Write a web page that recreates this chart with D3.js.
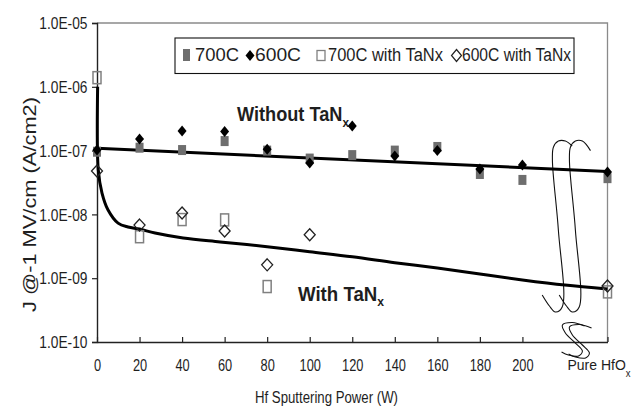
<!DOCTYPE html>
<html><head><meta charset="utf-8">
<script src="https://cdn.jsdelivr.net/npm/d3@7/dist/d3.min.js"></script>
<style>
html,body{margin:0;padding:0;background:#fff;}
svg{display:block;}
text{font-family:"Liberation Sans",Arial,Helvetica,sans-serif;fill:#1e1e1e;}
</style></head>
<body>
<svg id="chart" width="644" height="408"></svg>
<script>
// ---- data ----
const power = [0, 20, 40, 60, 80, 100, 120, 140, 160, 180, 200, 240];
const xTickValues = [0, 20, 40, 60, 80, 100, 120, 140, 160, 180, 200];
const yTickValues = [1e-10, 1e-9, 1e-8, 1e-7, 1e-6, 1e-5];
const yTickLabels = ["1.0E-10", "1.0E-09", "1.0E-08", "1.0E-07", "1.0E-06", "1.0E-05"];
const j700 = [9.6e-8, 1.11e-7, 1.02e-7, 1.41e-7, 1.0e-7, 7.5e-8, 8.5e-8, 1.0e-7, 1.14e-7, 4.3e-8, 3.47e-8, 3.7e-8];
const j600 = [1.02e-7, 1.52e-7, 2.03e-7, 2.0e-7, 1.05e-7, 6.4e-8, 2.43e-7, 8.2e-8, 1.0e-7, 5.15e-8, 5.94e-8, 4.6e-8];
const j700TaN = [1.39e-6, 4.47e-9, 8.3e-9, 8.2e-9, 7.4e-10, null, null, null, null, null, null, 6.1e-10];
const j600TaN = [4.8e-8, 6.8e-9, 1.05e-8, 5.5e-9, 1.62e-9, 4.8e-9, null, null, null, null, null, 7.55e-10];
const legendNames = ["700C", "600C", "700C with TaNx", "600C with TaNx"];
// trend lines
const trendNoTaNxX = [0, 240];
const trendNoTaNxJ = [1.09e-7, 4.7e-8];
const trendTaNxX = [0.3, 0.6, 2.35, 5.2, 9.9, 14.6, 20, 27.3, 40.5, 57.9, 80, 100, 120, 140, 160, 180, 200, 220, 240];
const trendTaNxJ = [1.0e-6, 4.97e-8, 2.16e-8, 1.17e-8, 7.3e-9, 6.35e-9, 5.9e-9, 5.1e-9, 4.27e-9, 3.7e-9, 3.12e-9, 2.6e-9, 2.17e-9, 1.75e-9, 1.44e-9, 1.16e-9, 9.4e-10, 7.8e-10, 6.76e-10];
// hand-drawn axis-break marks, [power, log10 J]
const breakMark1 = [[209.3,-9.263],[212.7,-9.436],[215.5,-9.53],[218.7,-9.451],[216.9,-8.245],[214.1,-7.147],[214.6,-6.944],[216.9,-6.85],[220.2,-6.85],[223.4,-6.928]];
const breakMark2 = [[217.3,-9.263],[220.7,-9.436],[223.5,-9.53],[226.7,-9.451],[224.9,-8.245],[222.1,-7.147],[222.6,-6.944],[224.9,-6.85],[228.2,-6.85],[232.0,-7.0]];
const breakS1 = [[229.2,-9.749],[223.5,-9.694],[218.8,-9.734],[220.2,-9.859],[224.9,-10.016],[228.2,-10.141],[226.4,-10.219],[221.6,-10.204],[218.4,-10.157]];
const breakS2 = [[232.5,-9.78],[226.8,-9.725],[222.1,-9.765],[223.5,-9.89],[228.2,-10.047],[231.5,-10.172],[229.7,-10.25],[224.9,-10.235],[221.7,-10.188]];

// ---- layout ----
const L = 97, R = 607.5, T = 23, B = 342;
const svg = d3.select("#chart");
const x = d3.scaleLinear().domain([0, 240]).range([L, R]);
const y = d3.scaleLog().domain([1e-10, 1e-5]).range([B, T]);

// plot border (top/right gray)
svg.append("path").attr("d", `M${L},${T}H${R}V${B}`).attr("fill", "none").attr("stroke", "#8a8a8a").attr("stroke-width", 1.3);

// y axis
const yAxis = d3.axisLeft(y).tickValues(yTickValues).tickSize(5).tickFormat((d, i) => yTickLabels[i]);
const gy = svg.append("g").attr("transform", `translate(${L},0)`).call(yAxis);
gy.select(".domain").attr("stroke", "#222").attr("stroke-width", 1.4);
gy.selectAll(".tick line").attr("stroke", "#222").attr("stroke-width", 1.2);
gy.selectAll(".tick text").attr("x", 0).attr("dy", null).attr("dominant-baseline", null)
  .attr("transform", "translate(-9.5,5.7) scale(0.86,1)")
  .style("font-size", "16px").attr("fill", "#2a2a2a");

// x axis
const xAxis = d3.axisBottom(x).tickValues(xTickValues.concat([240])).tickSize(0).tickFormat((d) => d === 240 ? "" : d);
const gx = svg.append("g").attr("transform", `translate(0,${B})`).call(xAxis);
gx.select(".domain").attr("stroke", "#222").attr("stroke-width", 1.4);
gx.selectAll(".tick line").attr("y1", 0).attr("y2", -5).attr("stroke", "#222").attr("stroke-width", 1.2);
gx.selectAll(".tick text").attr("y", 0).attr("dy", null)
  .attr("transform", "translate(0,29) scale(0.8,1)")
  .style("font-size", "16px").attr("fill", "#2a2a2a");

// axis titles
svg.append("text").attr("x", 326.5).attr("y", 402.5).attr("text-anchor", "middle")
  .style("font-size", "16px").attr("textLength", 143).attr("lengthAdjust", "spacingAndGlyphs").attr("fill", "#2a2a2a")
  .text("Hf Sputtering Power (W)");
svg.append("text").attr("transform", "translate(35.5,204.5) rotate(-90)").attr("text-anchor", "middle")
  .style("font-size", "17.5px").attr("textLength", 215).attr("lengthAdjust", "spacingAndGlyphs").attr("fill", "#333")
  .text("J @-1 MV/cm (A/cm2)");

// text with subscript in one element
function subText(px, py, main, sub, size, subSize, len, weight, fill, dy) {
  const t = svg.append("text").attr("x", px).attr("y", py).style("font-size", size + "px")
    .style("font-weight", weight).attr("fill", fill)
    .attr("textLength", len).attr("lengthAdjust", "spacingAndGlyphs");
  t.append("tspan").text(main);
  t.append("tspan").attr("dy", dy).style("font-size", subSize + "px").text(sub);
  return t;
}
subText(567.5, 370, "Pure HfO", "x", 15.5, 10.5, 63, "normal", "#2a2a2a", 7);
subText(237, 120.5, "Without TaN", "x", 20, 13, 112, "bold", "#000", 6);
subText(298, 301, "With TaN", "x", 20, 13, 86, "bold", "#000", 5);

// break marks
const markLine = d3.line().x(d => x(d[0])).y(d => y(Math.pow(10, d[1]))).curve(d3.curveCatmullRom.alpha(0.5));
[breakMark1, breakMark2, breakS1, breakS2].forEach(m => {
  svg.append("path").attr("d", markLine(m)).attr("fill", "none").attr("stroke", "#111").attr("stroke-width", 1.1);
});

// trend lines
const tl = d3.line().x(d => x(d[0])).y(d => y(d[1]));
svg.append("path").attr("d", tl(trendNoTaNxX.map((v, i) => [v, trendNoTaNxJ[i]])))
  .attr("fill", "none").attr("stroke", "#000").attr("stroke-width", 3);
svg.append("path").attr("d", tl.curve(d3.curveCatmullRom.alpha(0.5))(trendTaNxX.map((v, i) => [v, trendTaNxJ[i]])))
  .attr("fill", "none").attr("stroke", "#000").attr("stroke-width", 3);

// markers
const diamond = (w, h) => `M0,${-h/2}L${w/2},0L0,${h/2}L${-w/2},0Z`;
function pts(vals) { return power.map((p, i) => [p, vals[i]]).filter(d => d[1] != null); }

svg.append("g").selectAll("rect").data(pts(j700)).join("rect")
  .attr("x", d => x(d[0]) - 4).attr("y", d => y(d[1]) - 5).attr("width", 8).attr("height", 10)
  .attr("fill", "#6e6e6e");
svg.append("g").selectAll("path").data(pts(j600)).join("path")
  .attr("transform", d => `translate(${x(d[0])},${y(d[1])})`).attr("d", diamond(9, 11)).attr("fill", "#000");
svg.append("g").selectAll("rect").data(pts(j700TaN)).join("rect")
  .attr("x", d => x(d[0]) - 4).attr("y", d => y(d[1]) - 6).attr("width", 8).attr("height", 12)
  .attr("fill", "none").attr("stroke", "#808080").attr("stroke-width", 1.5);
svg.append("g").selectAll("path").data(pts(j600TaN)).join("path")
  .attr("transform", d => `translate(${x(d[0])},${y(d[1])})`).attr("d", diamond(11, 12))
  .attr("fill", "none").attr("stroke", "#222").attr("stroke-width", 1.3);

// legend
const lg = svg.append("g");
lg.append("rect").attr("x", 175).attr("y", 38).attr("width", 399).attr("height", 35.5)
  .attr("fill", "#fff").attr("stroke", "#111").attr("stroke-width", 1.1);
const legendTextX = [195, 255, 328, 462];
const legendTextW = [44, 46, 115, 109];
lg.append("rect").attr("x", 183).attr("y", 49).attr("width", 7).attr("height", 12).attr("fill", "#6e6e6e");
lg.append("path").attr("transform", "translate(250,55.5)").attr("d", diamond(9, 11)).attr("fill", "#000");
lg.append("rect").attr("x", 317).attr("y", 50.5).attr("width", 8).attr("height", 10)
  .attr("fill", "none").attr("stroke", "#808080").attr("stroke-width", 1.3);
lg.append("path").attr("transform", "translate(456.5,55.5)").attr("d", diamond(10, 12))
  .attr("fill", "none").attr("stroke", "#222").attr("stroke-width", 1.2);
legendNames.forEach((n, i) => {
  lg.append("text").attr("x", legendTextX[i]).attr("y", 61).style("font-size", "18px")
    .attr("textLength", legendTextW[i]).attr("lengthAdjust", "spacingAndGlyphs").text(n);
});
</script>
</body></html>
